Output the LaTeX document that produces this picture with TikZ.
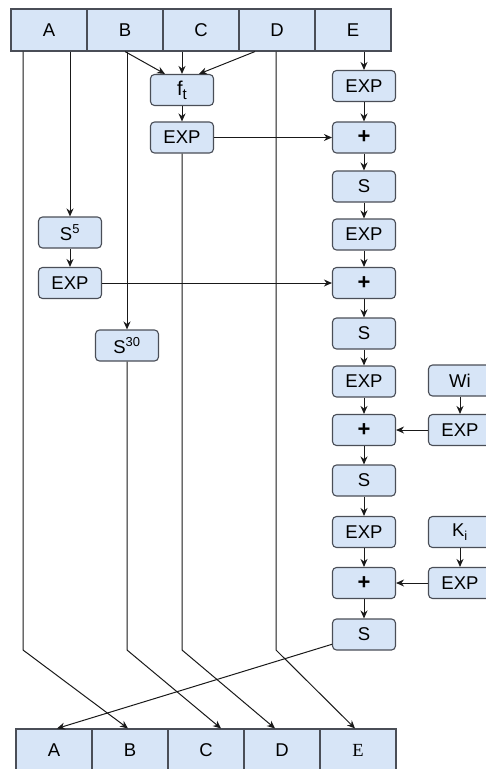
\documentclass[tikz,border=0pt]{standalone}
\usepackage{fontspec}
\setmainfont{Liberation Sans}
\newfontfamily\serifE{Liberation Serif}
\usetikzlibrary{arrows.meta,positioning}
\definecolor{boxblue}{HTML}{D7E5F7}
\definecolor{edge}{HTML}{4A4E57}
\newcommand{\plus}{{\fontsize{22}{22}\selectfont\bfseries +}}

\begin{document}
\begin{tikzpicture}[x=1pt,y=1pt]
\tikzstyle{every node}+=[inner sep=0pt, font=\fontsize{18.5}{18.5}\selectfont]
\tikzstyle{cell}=[draw=edge, line width=1.1pt, fill=boxblue, minimum width=76pt, minimum height=42pt]
\tikzstyle{op}=[draw=edge, line width=1.1pt, fill=boxblue, rounded corners=4pt, minimum width=63pt, minimum height=31pt]
\tikzstyle{arr}=[draw=black!90, line width=1pt, -{Stealth[length=8pt,width=7pt]}]
\useasboundingbox (0,0) rectangle (485,-769);
% input words
\node[cell] (a0) at (49,-30) {A};
\node[cell] (b0) at (125,-30) {B};
\node[cell] (c0) at (201,-30) {C};
\node[cell] (d0) at (277,-30) {D};
\node[cell] (e0) at (353,-30) {E};
% output words
\node[cell] (a1) at (54,-750) {A};
\node[cell] (b1) at (130,-750) {B};
\node[cell] (c1) at (206,-750) {C};
\node[cell] (d1) at (282,-750) {D};
\node[cell] (e1) at (358,-750) {\serifE E};
% f_t branch
\node[op] (ft) at (182,-90) {\fontsize{20}{20}\selectfont f\raisebox{-4pt}{\fontsize{15}{15}\selectfont t}};
\node[op] (texp) at (182,-137.5) {EXP};
% rotations
\node[op] (s5) at (70,-232.5) {S\textsuperscript{5}};
\node[op] (exp5) at (70,-283) {EXP};
\node[op] (s30) at (127,-345.5) {S\textsuperscript{30}};
% main column
\node[op] (x1) at (364,-86) {EXP};
\node[op] (p1) at (364,-137.5) {\plus};
\node[op] (r1) at (364,-186.5) {S};
\node[op] (x2) at (364,-234.5) {EXP};
\node[op] (p2) at (364,-283) {\plus};
\node[op] (r2) at (364,-333.5) {S};
\node[op] (x3) at (364,-381.5) {EXP};
\node[op] (p3) at (364,-430) {\plus};
\node[op] (r3) at (364,-480.5) {S};
\node[op] (x4) at (364,-532) {EXP};
\node[op] (p4) at (364,-583) {\plus};
\node[op] (r4) at (364,-634.5) {S};
% W and K inputs
\node[op] (w) at (460,-380.5) {Wi};
\node[op] (wexp) at (460,-430) {EXP};
\node[op] (k) at (460,-532) {K\textsubscript{i}};
\node[op] (kexp) at (460,-583) {EXP};
% bend points
\coordinate (kA) at (23,-650);
\coordinate (kB) at (s30 |- kA);
\coordinate (kC) at (texp |- kA);
\coordinate (kD) at (276,-650);
% into f_t
\draw[arr] (b0.south) -- ([xshift=-17pt]ft.north);
\draw[arr] (ft |- c0.south) -- (ft);
\draw[arr] ([xshift=-22pt]d0.south) -- ([xshift=17pt]ft.north);
\draw[arr] (ft) -- (texp);
\draw[arr] (texp) -- (p1);
% rotations of A and B
\draw[arr] (s5 |- a0.south) -- (s5);
\draw[arr] (s5) -- (exp5);
\draw[arr] (exp5) -- (p2);
\draw[arr] (s30 |- b0.south) -- (s30);
% main column
\draw[arr] (x1 |- e0.south) -- (x1);
\foreach \u/\v in {x1/p1,p1/r1,r1/x2,x2/p2,p2/r2,r2/x3,x3/p3,p3/r3,r3/x4,x4/p4,p4/r4}
  \draw[arr] (\u) -- (\v);
\draw[arr] (w) -- (wexp);
\draw[arr] (wexp) -- (p3);
\draw[arr] (k) -- (kexp);
\draw[arr] (kexp) -- (p4);
% to the output words
\draw[arr] (kA |- a0.south) -- (kA) -- ([xshift=-2pt]b1.north);
\draw[arr] (s30) -- (kB) -- ([xshift=15pt]c1.north);
\draw[arr] (texp) -- (kC) -- ([xshift=-7pt]d1.north);
\draw[arr] (kD |- d0.south) -- (kD) -- ([xshift=-3pt]e1.north);
\draw[arr] (r4) -- ([xshift=3pt]a1.north);
\end{tikzpicture}
\end{document}
